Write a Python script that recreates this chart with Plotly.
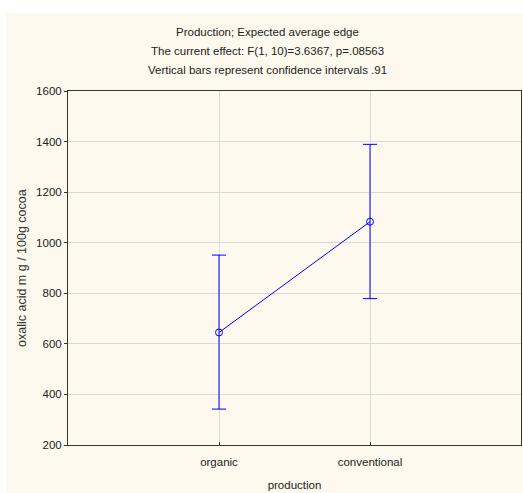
import plotly.graph_objects as go

categories = ["organic", "conventional"]
means = [645, 1083]
ci_plus = [306, 306]
ci_minus = [303, 304]

title_lines = [
    "Production; Expected average edge",
    "The current effect: F(1, 10)=3.6367, p=.08563",
    "Vertical bars represent confidence intervals .91",
]
y_ticks = [200, 400, 600, 800, 1000, 1200, 1400, 1600]

FONT = "Liberation Sans, Arial, sans-serif"
W, H = 523, 493
L, R, T, B = 68, 2, 91, 48
pw, ph = W - L - R, H - T - B

def px_x(x):
    return (x - L) / pw

def px_y(y):
    return (H - B - y) / ph

fig = go.Figure()
fig.add_trace(go.Scatter(
    x=[0, 1], y=means,
    mode="lines+markers",
    line=dict(color="#0000FF", width=1),
    marker=dict(symbol="circle-open", size=7, color="#0000FF", line=dict(width=1)),
    error_y=dict(type="data", symmetric=False, array=ci_plus, arrayminus=ci_minus,
                 color="#0000FF", thickness=1, width=7),
    showlegend=False,
    hoverinfo="skip",
))

fig.add_shape(type="rect", xref="paper", yref="paper",
              x0=px_x(6), x1=px_x(W + 2), y0=px_y(H + 2), y1=px_y(13),
              fillcolor="#FDF9EE", line=dict(width=0), layer="below")

for i, t in enumerate(title_lines):
    fig.add_annotation(text=t, xref="paper", yref="paper",
                       x=px_x(267), y=px_y(32 + 19 * i), xanchor="center", yanchor="middle",
                       showarrow=False, font=dict(family=FONT, size=11.5, color="#222222"))

fig.add_annotation(text="oxalic acid m g / 100g cocoa", xref="paper", yref="paper",
                   x=px_x(22), y=px_y(268), textangle=-90, xanchor="center", yanchor="middle",
                   showarrow=False, font=dict(family=FONT, size=12.5, color="#333333"))

fig.update_layout(
    width=W, height=H,
    margin=dict(l=L, r=R, t=T, b=B),
    paper_bgcolor="white",
    plot_bgcolor="white",
    font=dict(family=FONT, size=11.5, color="#222222"),
    xaxis=dict(
        range=[-1, 2], tickmode="array", tickvals=[0, 1], ticktext=categories,
        showgrid=True, gridcolor="#D9D9D9", gridwidth=1,
        ticks="inside", ticklen=3, tickcolor="#333333",
        ticklabelstandoff=6,
        showline=True, linecolor="#333333", linewidth=1, mirror=True,
        zeroline=False,
        title=dict(text="production", standoff=14, font=dict(family=FONT, size=11.5)),
    ),
    yaxis=dict(
        range=[200, 1600], tickvals=y_ticks,
        showgrid=True, gridcolor="#D9D9D9", gridwidth=1,
        ticks="outside", ticklen=3, tickcolor="#333333",
        showline=True, linecolor="#333333", linewidth=1, mirror=True,
        zeroline=False,
    ),
)

fig.write_html("out.html", config={"displayModeBar": False},
               post_script="document.body.style.margin='0';document.body.style.overflow='hidden';")
